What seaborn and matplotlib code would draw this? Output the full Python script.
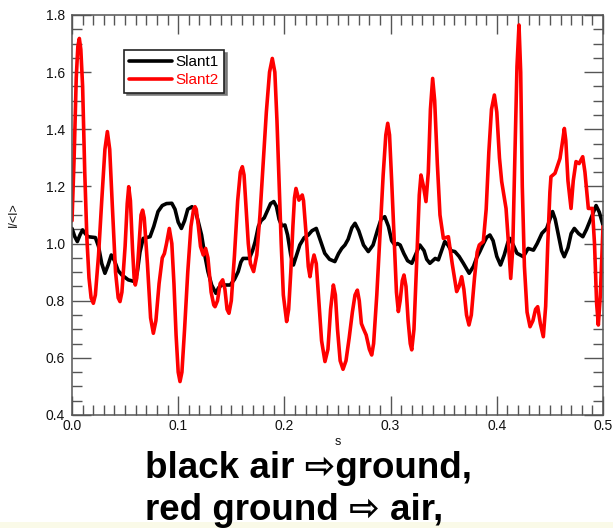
import matplotlib
matplotlib.use("Agg")
import matplotlib.pyplot as plt
from matplotlib.patches import Rectangle
from matplotlib.ticker import MultipleLocator, FormatStrFormatter
import pandas as pd
import seaborn as sns

# Normalised intensity I/<I> along s for the two slant paths
slant1_s = [0.000, 0.0025, 0.005, 0.0075, 0.010, 0.0125, 0.015, 0.022, 0.025, 0.028,
            0.031, 0.034, 0.037, 0.040, 0.0435, 0.047, 0.053, 0.059, 0.0615, 0.064,
            0.067, 0.0735, 0.077, 0.081, 0.085, 0.089, 0.094, 0.097, 0.100, 0.103,
            0.106, 0.109, 0.113, 0.1165, 0.119, 0.122, 0.125, 0.128, 0.1315, 0.1355,
            0.138, 0.141, 0.149, 0.153, 0.1565, 0.159, 0.161, 0.167, 0.170, 0.1725,
            0.1755, 0.178, 0.181, 0.184, 0.187, 0.190, 0.1925, 0.195, 0.1975, 0.2005,
            0.203, 0.206, 0.2085, 0.2115, 0.2145, 0.2185, 0.2225, 0.226, 0.230, 0.234,
            0.238, 0.2425, 0.2475, 0.251, 0.254, 0.257, 0.260, 0.2635, 0.2665, 0.270,
            0.2745, 0.279, 0.2835, 0.2875, 0.291, 0.2945, 0.298, 0.301, 0.304, 0.3065,
            0.309, 0.3125, 0.316, 0.320, 0.324, 0.3275, 0.3315, 0.334, 0.337, 0.342,
            0.345, 0.348, 0.351, 0.354, 0.357, 0.3605, 0.3645, 0.3685, 0.374, 0.378,
            0.381, 0.384, 0.3875, 0.3905, 0.3935, 0.3965, 0.400, 0.4035, 0.407, 0.4105,
            0.4125, 0.4155, 0.419, 0.425, 0.4295, 0.4345, 0.438, 0.4425, 0.447, 0.450,
            0.4525, 0.455, 0.458, 0.461, 0.4635, 0.467, 0.470, 0.473, 0.477, 0.481,
            0.4845, 0.4875, 0.4905, 0.4935, 0.4965, 0.500]
slant1_i = [1.053, 1.025, 1.007, 1.030, 1.048, 1.035, 1.024, 1.021, 0.990, 0.930,
            0.896, 0.925, 0.960, 0.940, 0.905, 0.890, 0.873, 0.867, 0.900, 0.970,
            1.018, 1.024, 1.060, 1.112, 1.133, 1.140, 1.141, 1.120, 1.075, 1.053,
            1.080, 1.120, 1.129, 1.110, 1.075, 1.030, 0.960, 0.902, 0.855, 0.826,
            0.845, 0.855, 0.855, 0.875, 0.902, 0.935, 0.948, 0.948, 0.975, 1.007,
            1.060, 1.080, 1.090, 1.115, 1.140, 1.147, 1.130, 1.085, 1.062, 1.065,
            1.030, 0.960, 0.925, 0.960, 0.995, 1.020, 1.030, 1.045, 1.053, 1.010,
            0.966, 0.945, 0.937, 0.965, 0.983, 0.995, 1.015, 1.055, 1.071, 1.045,
            0.995, 0.972, 0.995, 1.045, 1.085, 1.094, 1.060, 1.010, 0.995, 1.000,
            0.995, 0.965, 0.940, 0.931, 0.965, 0.995, 0.975, 0.945, 0.931, 0.948,
            0.943, 0.975, 1.007, 0.995, 0.975, 0.972, 0.955, 0.931, 0.896, 0.920,
            0.950, 0.972, 1.000, 1.022, 1.030, 1.010, 0.955, 0.925, 0.960, 1.005,
            1.018, 0.995, 0.966, 0.954, 0.983, 0.977, 1.000, 1.036, 1.053, 1.085,
            1.112, 1.085, 1.030, 0.975, 0.954, 0.985, 1.035, 1.053, 1.035, 1.024,
            1.050, 1.077, 1.105, 1.133, 1.110, 1.065]

slant2_s = [0.000, 0.002, 0.004, 0.0055, 0.0069, 0.0083, 0.010, 0.012, 0.014, 0.016,
            0.018, 0.0201, 0.022, 0.025, 0.028, 0.031, 0.0333, 0.0355, 0.038, 0.041,
            0.0435, 0.0452, 0.047, 0.050, 0.052, 0.0534, 0.055, 0.057, 0.0585, 0.0596,
            0.061, 0.063, 0.065, 0.0665, 0.068, 0.071, 0.074, 0.0766, 0.079, 0.082,
            0.085, 0.087, 0.089, 0.0916, 0.094, 0.096, 0.098, 0.100, 0.1017, 0.1035,
            0.106, 0.109, 0.112, 0.1145, 0.1158, 0.117, 0.119, 0.121, 0.1236, 0.1258,
            0.128, 0.131, 0.1335, 0.1347, 0.137, 0.1395, 0.1419, 0.144, 0.146, 0.1478,
            0.150, 0.153, 0.156, 0.1585, 0.1604, 0.162, 0.164, 0.166, 0.168, 0.171,
            0.174, 0.177, 0.180, 0.183, 0.186, 0.1886, 0.191, 0.193, 0.195, 0.197,
            0.199, 0.2021, 0.204, 0.206, 0.208, 0.2095, 0.2109, 0.2125, 0.2137, 0.215,
            0.2168, 0.218, 0.2205, 0.2225, 0.2241, 0.226, 0.2279, 0.230, 0.232, 0.235,
            0.2382, 0.241, 0.2435, 0.2461, 0.248, 0.250, 0.2525, 0.2552, 0.258, 0.261,
            0.264, 0.2665, 0.2687, 0.2705, 0.2725, 0.2743, 0.277, 0.280, 0.2822, 0.284,
            0.287, 0.290, 0.293, 0.2955, 0.2973, 0.299, 0.301, 0.3035, 0.3055, 0.3073,
            0.309, 0.311, 0.3126, 0.3145, 0.3165, 0.3185, 0.3199, 0.322, 0.3245, 0.327,
            0.3286, 0.331, 0.3333, 0.3355, 0.3375, 0.3396, 0.3415, 0.344, 0.3465, 0.3497,
            0.3544, 0.358, 0.3622, 0.3645, 0.3669, 0.369, 0.3715, 0.3738, 0.376, 0.379,
            0.3815, 0.3835, 0.3873, 0.390, 0.3925, 0.395, 0.3977, 0.400, 0.4025, 0.4046,
            0.4087, 0.411, 0.4131, 0.415, 0.417, 0.419, 0.4209, 0.4225, 0.424, 0.426,
            0.4285, 0.4313, 0.434, 0.4365, 0.4385, 0.441, 0.4438, 0.446, 0.448, 0.450,
            0.451, 0.4548, 0.4595, 0.462, 0.4636, 0.465, 0.467, 0.4699, 0.472, 0.4746,
            0.4775, 0.4809, 0.483, 0.4862, 0.490, 0.492, 0.494, 0.4956, 0.4975, 0.500]
slant2_i = [1.080, 1.300, 1.580, 1.690, 1.718, 1.680, 1.550, 1.250, 1.020, 0.880,
            0.810, 0.791, 0.820, 0.960, 1.150, 1.330, 1.392, 1.330, 1.130, 0.900,
            0.810, 0.797, 0.830, 0.990, 1.140, 1.199, 1.150, 0.980, 0.880, 0.855,
            0.880, 0.990, 1.100, 1.117, 1.090, 0.930, 0.740, 0.686, 0.730, 0.860,
            0.950, 0.965, 1.000, 1.053, 1.000, 0.860, 0.680, 0.550, 0.517, 0.550,
            0.700, 0.900, 1.060, 1.120, 1.129, 1.120, 1.060, 0.990, 0.960, 0.983,
            0.950, 0.830, 0.785, 0.779, 0.800, 0.860, 0.873, 0.840, 0.770, 0.756,
            0.800, 0.960, 1.150, 1.250, 1.269, 1.240, 1.120, 1.000, 0.930, 0.902,
            0.960, 1.100, 1.280, 1.460, 1.600, 1.648, 1.600, 1.430, 1.220, 1.000,
            0.820, 0.727, 0.770, 0.900, 1.060, 1.160, 1.193, 1.170, 1.152, 1.160,
            1.170, 1.150, 1.030, 0.920, 0.884, 0.930, 0.960, 0.930, 0.820, 0.660,
            0.587, 0.630, 0.770, 0.855, 0.820, 0.700, 0.590, 0.560, 0.590, 0.670,
            0.760, 0.820, 0.837, 0.800, 0.720, 0.703, 0.680, 0.630, 0.610, 0.650,
            0.820, 1.030, 1.240, 1.380, 1.421, 1.380, 1.220, 1.000, 0.830, 0.762,
            0.800, 0.870, 0.890, 0.850, 0.730, 0.650, 0.628, 0.700, 0.930, 1.170,
            1.240, 1.200, 1.147, 1.250, 1.470, 1.578, 1.500, 1.280, 1.100, 1.018,
            1.024, 0.930, 0.832, 0.850, 0.884, 0.840, 0.750, 0.715, 0.750, 0.880,
            0.970, 0.995, 1.007, 1.120, 1.320, 1.470, 1.520, 1.460, 1.300, 1.217,
            1.123, 1.000, 0.878, 0.980, 1.300, 1.620, 1.765, 1.600, 1.200, 0.920,
            0.760, 0.709, 0.730, 0.770, 0.779, 0.720, 0.674, 0.780, 1.000, 1.180,
            1.234, 1.246, 1.298, 1.360, 1.403, 1.360, 1.220, 1.123, 1.220, 1.287,
            1.280, 1.304, 1.250, 1.123, 1.123, 1.000, 0.790, 0.715, 0.820, 1.060]

series_names = ["Slant1", "Slant2"]
series_colors = ["#000000", "#ff0000"]

df = pd.concat([
    pd.DataFrame({"s": slant1_s, "I": slant1_i, "path": series_names[0]}),
    pd.DataFrame({"s": slant2_s, "I": slant2_i, "path": series_names[1]}),
], ignore_index=True)

sns.set_style("ticks")
plt.rcParams["font.family"] = ["Liberation Sans", "DejaVu Sans"]
plt.rcParams["text.color"] = "black"

fig = plt.figure(figsize=(6.13, 5.28), dpi=100)
ax = fig.add_axes([72 / 613, 113 / 528, 531 / 613, 400 / 528])

sns.lineplot(data=df, x="s", y="I", hue="path", palette=series_colors,
             estimator=None, sort=False, linewidth=2.6, ax=ax, legend=True)
for ln in ax.get_lines():
    ln.set_solid_joinstyle("round")
    ln.set_solid_capstyle("round")

ax.set_xlim(0.0, 0.5)
ax.set_ylim(0.4, 1.8)
ax.xaxis.set_major_locator(MultipleLocator(0.1))
ax.xaxis.set_minor_locator(MultipleLocator(0.01))
ax.yaxis.set_major_locator(MultipleLocator(0.2))
ax.yaxis.set_minor_locator(MultipleLocator(0.05))
ax.xaxis.set_major_formatter(FormatStrFormatter("%.1f"))
ax.yaxis.set_major_formatter(FormatStrFormatter("%.1f"))

spine_col = "#555555"
ax.tick_params(which="both", direction="in", top=True, right=True,
               color=spine_col, width=1.0, labelsize=10, labelcolor="#111111")
ax.tick_params(which="major", length=13.5, pad=5)
ax.tick_params(which="minor", length=7.2)
ax.tick_params(axis="x", which="major", pad=3)
for sp in ax.spines.values():
    sp.set_visible(True)
    sp.set_color(spine_col)
    sp.set_linewidth(1.1)

ax.set_xlabel("s", fontsize=9, color="#111111")
ax.xaxis.set_label_coords(0.5, -0.053)
ax.set_ylabel("I/<I>", fontsize=9, color="#111111")
ax.yaxis.set_label_coords(-0.098, 0.5)

handles, labels = ax.get_legend_handles_labels()
leg = ax.legend(handles, labels, loc="upper left", bbox_to_anchor=(0.098, 0.9125),
                borderaxespad=0, fontsize=11, handlelength=2.8, handletextpad=0.2,
                labelspacing=0.25, borderpad=0.35, fancybox=False, framealpha=1,
                edgecolor="#222222", shadow={"color": "0.45", "alpha": 0.9},
                labelcolor="linecolor")
leg.get_frame().set_linewidth(1.2)

caption_font = ["Liberation Sans", "DejaVu Sans"]
fig.text(145 / 613, 50 / 528, "black air \u21e8ground,", family=caption_font,
         fontsize=26.5, fontweight="bold", color="black", ha="left", va="baseline")
fig.text(145 / 613, 8 / 528, "red ground \u21e8 air,", family=caption_font,
         fontsize=26.5, fontweight="bold", color="black", ha="left", va="baseline")

fig.patches.append(Rectangle((0, 0), 1, 6 / 528, transform=fig.transFigure,
                             facecolor="#fafae8", edgecolor="none", zorder=-1))

fig.savefig("out.png", dpi=100)
